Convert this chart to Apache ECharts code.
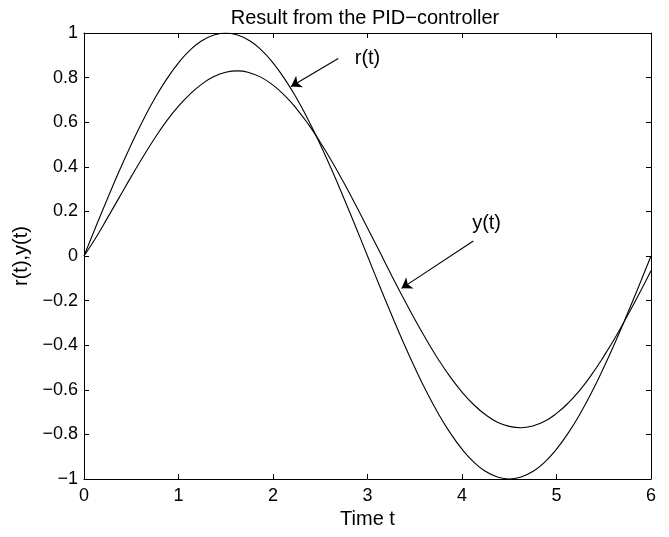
<!DOCTYPE html>
<html>
<head>
<meta charset="utf-8">
<script src="https://cdn.jsdelivr.net/npm/echarts@6/dist/echarts.min.js"></script>
<style>
  html, body { margin: 0; padding: 0; background: #fff; }
  #chart { width: 669px; height: 537px; }
</style>
</head>
<body>
<div id="chart"></div>
<script>
// time samples and the two curves
var times = [0, 0.125, 0.25, 0.375, 0.5, 0.625, 0.75, 0.875, 1, 1.125, 1.25, 1.375, 1.5,
             1.625, 1.75, 1.875, 2, 2.125, 2.25, 2.375, 2.5, 2.625, 2.75, 2.875, 3,
             3.125, 3.25, 3.375, 3.5, 3.625, 3.75, 3.875, 4, 4.125, 4.25, 4.375, 4.5,
             4.625, 4.75, 4.875, 5, 5.125, 5.25, 5.375, 5.5, 5.625, 5.75, 5.875, 6];
var rValues = [0, 0.131, 0.259, 0.383, 0.5, 0.609, 0.707, 0.793, 0.866, 0.924, 0.966, 0.991, 1,
               0.991, 0.966, 0.924, 0.866, 0.793, 0.707, 0.609, 0.5, 0.383, 0.259, 0.131, 0,
               -0.131, -0.259, -0.383, -0.5, -0.609, -0.707, -0.793, -0.866, -0.924, -0.966, -0.991, -1,
               -0.991, -0.966, -0.924, -0.866, -0.793, -0.707, -0.609, -0.5, -0.383, -0.259, -0.131, 0];
var yValues = [0, 0.082, 0.172, 0.264, 0.356, 0.445, 0.529, 0.606, 0.672, 0.727, 0.772, 0.805, 0.824,
               0.83, 0.822, 0.801, 0.766, 0.719, 0.66, 0.59, 0.51, 0.423, 0.328, 0.229, 0.126,
               0.022, -0.083, -0.185, -0.284, -0.377, -0.464, -0.542, -0.61, -0.667, -0.712, -0.745, -0.764,
               -0.77, -0.762, -0.741, -0.706, -0.659, -0.6, -0.53, -0.45, -0.363, -0.268, -0.169, -0.066];

// annotation arrows: [from, to] in data units, and label positions
var rArrow = [[2.69, 0.886], [2.19, 0.76]];
var yArrow = [[4.12, 0.067], [3.36, -0.145]];
var rLabelAt = [3.0, 0.885];
var yLabelAt = [4.26, 0.145];

function pairs(xs, vs) {
    var out = [];
    for (var i = 0; i < xs.length; i++) out.push([xs[i], vs[i]]);
    return out;
}
function minus(v) { return String(v).replace('-', '\u2212'); }

var font = 'Liberation Sans, Arial, Helvetica, sans-serif';
var axisLine = { onZero: false, lineStyle: { color: '#000', width: 1 } };
var tick = { inside: true, length: 5, lineStyle: { color: '#000', width: 1 } };

var myChart = echarts.init(document.getElementById('chart'));
var option = {
    backgroundColor: '#fff',
    animation: false,
    title: {
        text: 'Result from the PID\u2212controller',
        left: 360, top: 3, textAlign: 'center',
        textStyle: { fontFamily: font, fontSize: 20, fontWeight: 'normal', color: '#000' }
    },
    grid: { left: 84, right: 18, top: 33, bottom: 58 },
    xAxis: [{
        type: 'value', min: 0, max: 6, interval: 1, position: 'bottom',
        name: 'Time t', nameLocation: 'middle', nameGap: 30,
        nameTextStyle: { fontFamily: font, fontSize: 20, color: '#000' },
        axisLine: axisLine, axisTick: tick, splitLine: { show: false },
        axisLabel: { fontFamily: font, fontSize: 18, color: '#000', margin: 8 }
    }, {
        type: 'value', min: 0, max: 6, interval: 1, position: 'top',
        axisLine: axisLine, axisTick: tick, splitLine: { show: false },
        axisLabel: { show: false }
    }],
    yAxis: [{
        type: 'value', min: -1, max: 1, interval: 0.2, position: 'left',
        name: 'r(t),y(t)', nameLocation: 'middle', nameGap: 36,
        nameTextStyle: { fontFamily: font, fontSize: 20, color: '#000' },
        axisLine: axisLine, axisTick: tick, splitLine: { show: false },
        axisLabel: { fontFamily: font, fontSize: 18, color: '#000', margin: 6,
            formatter: function (v) { return minus(Math.round(v * 10) / 10); } }
    }, {
        type: 'value', min: -1, max: 1, interval: 0.2, position: 'right',
        axisLine: axisLine, axisTick: tick, splitLine: { show: false },
        axisLabel: { show: false }
    }],
    series: [{
        name: 'r(t)', type: 'line', smooth: true, showSymbol: false,
        data: pairs(times, rValues),
        lineStyle: { color: '#000', width: 1.1 },
        markLine: {
            silent: true, symbol: ['none', 'arrow'], symbolSize: 10,
            label: { show: false },
            lineStyle: { color: '#000', width: 1.1, type: 'solid' },
            itemStyle: { color: '#000' },
            data: [
                [{ coord: rArrow[0] }, { coord: rArrow[1] }],
                [{ coord: yArrow[0] }, { coord: yArrow[1] }]
            ]
        },
        markPoint: {
            silent: true, symbol: 'circle', symbolSize: 0,
            label: { show: true, position: 'inside', fontFamily: font, fontSize: 20, color: '#000',
                formatter: function (p) { return p.name; } },
            data: [
                { name: 'r(t)', coord: rLabelAt },
                { name: 'y(t)', coord: yLabelAt }
            ]
        }
    }, {
        name: 'y(t)', type: 'line', smooth: true, showSymbol: false,
        data: pairs(times, yValues),
        lineStyle: { color: '#000', width: 1.1 }
    }]
};
myChart.setOption(option);
</script>
</body>
</html>
